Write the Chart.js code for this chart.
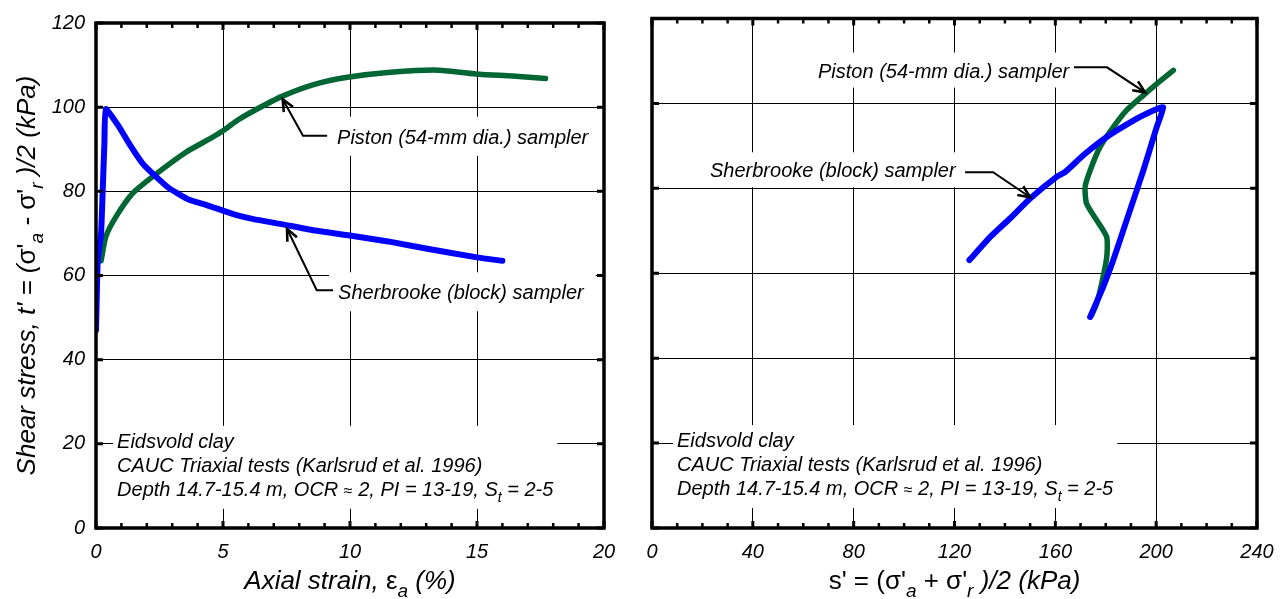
<!DOCTYPE html>
<html><head><meta charset="utf-8">
<script src="https://cdn.jsdelivr.net/npm/chart.js@4"></script>
<style>
html,body{margin:0;padding:0;background:#fff;}
#wrap{position:relative;width:1286px;height:599px;overflow:hidden;}
canvas{position:absolute;top:0;}
</style></head><body>
<div id="wrap">
<canvas id="c1" width="630" height="599" style="left:0"></canvas>
<canvas id="c2" width="656" height="599" style="left:630px"></canvas>
</div>
<script>
// ---------- DATA ----------
// Left panel: shear stress t' vs axial strain
const strainSherbrooke = [0, 0.03, 0.07, 0.2, 0.26, 0.33, 0.39, 0.92, 1.31, 1.84, 2.36, 2.89, 3.67, 4.33, 5.0, 5.5, 6.2, 7.3, 8.5, 10.0, 11.5, 13.1, 15.0, 16.0];
const tSherbrookeStrain = [47, 55, 63.8, 70.1, 79.5, 91.3, 99.5, 95.2, 91.3, 86.6, 83.5, 80.7, 78, 76.8, 75.4, 74.4, 73.4, 72.2, 70.8, 69.5, 68.1, 66.3, 64.3, 63.5];
const strainPiston = [0.2, 0.39, 0.79, 1.44, 2.23, 3.54, 4.4, 5.0, 5.6, 6.2, 7.3, 8.6, 9.9, 11.6, 13.5, 15.1, 16.4, 17.7];
const tPistonStrain = [63.5, 69.3, 74, 79.5, 83.5, 89.3, 92.2, 94.4, 97.0, 99.1, 102.5, 105.4, 107.1, 108.3, 108.8, 107.8, 107.4, 106.8];
// Right panel: stress paths t' vs s'
const sSherbrooke = [173.8, 179, 183, 188.3, 194.9, 200.2, 202.8, 197.6, 192.3, 180.4, 171.1, 163.8, 160.5, 150, 142, 134.1, 125.9];
const tSherbrookePath = [49.7, 56.8, 63.1, 72.5, 84.2, 94.4, 99.1, 98, 96.4, 92.1, 87.8, 83.8, 82.7, 77.6, 72.9, 68.5, 63.1];
const sPiston = [174.4, 176.4, 178.4, 180.4, 180.4, 176.4, 172.4, 171.8, 173.8, 177.7, 183, 188.3, 194.9, 200.2, 206.8];
const tPistonPath = [50.1, 52.9, 57.6, 63.8, 68.5, 72.5, 76.4, 80.3, 84.2, 89.7, 94.4, 98.4, 101.9, 104.6, 107.8];
// Axes
const strainTicks = [0, 5, 10, 15, 20];
const sTicks = [0, 40, 80, 120, 160, 200, 240];
const tTicks = [0, 20, 40, 60, 80, 100, 120];
const labelPiston = 'Piston (54-mm dia.) sampler';
const labelSherbrooke = 'Sherbrooke (block) sampler';
const noteLines = [
  [{t:'Eidsvold clay'}],
  [{t:'CAUC Triaxial tests (Karlsrud et al. 1996)'}],
  [{t:'Depth 14.7-15.4 m, OCR '},{t:'\u2248',up:true,small:true},{t:' 2, PI = 13-19, S'},{t:'t',sub:true},{t:' = 2-5'}]
];
const titleStrain = [{t:'Axial strain, '},{t:'\u03B5',up:true},{t:'a',sub:true},{t:' (%)'}];
const titleS = [{t:"s' = (",up:true},{t:"\u03C3'",up:true},{t:'a',sub:true},{t:' + ',up:true},{t:"\u03C3'",up:true},{t:'r',sub:true},{t:' )/2 (kPa)'}];
const titleT = [{t:"Shear stress, t' = ("},{t:"\u03C3'",up:true},{t:'a',sub:true},{t:' - '},{t:"\u03C3'",up:true},{t:'r',sub:true},{t:' )/2 (kPa)'}];

// ---------- helpers ----------
const FAM = "'Liberation Sans', Arial, Helvetica, sans-serif";
const BLUE = '#0000FF', GREEN = '#006633';
const pts = (xs, ys) => xs.map((v, i) => ({x: v, y: ys[i]}));

function fontFor(s, size) {
  const sz = s.sub ? Math.round(size * 0.72) : (s.small ? Math.round(size * 0.8) : size);
  return `${s.up ? 'normal' : 'italic'} ${sz}px ${FAM}`;
}
function richWidth(ctx, segs, size) {
  let w = 0;
  segs.forEach(s => { ctx.font = fontFor(s, size); w += ctx.measureText(s.t).width; });
  return w;
}
function drawRich(ctx, segs, x, y, size, align) {
  const total = richWidth(ctx, segs, size);
  let cx = align === 'center' ? x - total / 2 : x;
  ctx.textAlign = 'left'; ctx.textBaseline = 'alphabetic'; ctx.fillStyle = '#000';
  segs.forEach(s => {
    ctx.font = fontFor(s, size);
    ctx.fillText(s.t, cx, y + (s.sub ? size * 0.3 : 0));
    cx += ctx.measureText(s.t).width;
  });
  return total;
}

function makePlugins(cfg) {
  return [{
    id: 'boxes',
    beforeDatasetsDraw(chart) {
      const {ctx, scales: {x, y}} = chart;
      ctx.save(); ctx.fillStyle = '#fff';
      cfg.annos.forEach(a => {
        const px = x.getPixelForValue(a.x), py = y.getPixelForValue(a.y);
        let w = 0;
        a.lines.forEach(l => { w = Math.max(w, richWidth(ctx, l, a.size)); });
        const top = py - a.above, bot = py + (a.lines.length - 1) * a.lh + a.below;
        ctx.fillRect(px - a.padL, top, w + a.padL + a.padR, bot - top);
      });
      ctx.restore();
    },
    afterDatasetsDraw(chart) {
      const {ctx, scales: {x, y}} = chart;
      ctx.save();
      cfg.annos.forEach(a => {
        const px = x.getPixelForValue(a.x), py = y.getPixelForValue(a.y);
        a.lines.forEach((l, i) => drawRich(ctx, l, px, py + i * a.lh, a.size, 'left'));
      });
      ctx.strokeStyle = '#000'; ctx.lineWidth = 2; ctx.lineJoin = 'miter'; ctx.lineCap = 'butt';
      cfg.arrows.forEach(ar => {
        const p = ar.map(q => [x.getPixelForValue(q[0]), y.getPixelForValue(q[1])]);
        ctx.beginPath(); ctx.moveTo(p[0][0], p[0][1]);
        for (let i = 1; i < p.length; i++) ctx.lineTo(p[i][0], p[i][1]);
        ctx.stroke();
        const [tx, ty] = p[p.length - 1], [fx, fy] = p[p.length - 2];
        const ang = Math.atan2(ty - fy, tx - fx), L = 13, sp = 0.42;
        ctx.lineWidth = 2.6;
        ctx.beginPath();
        ctx.moveTo(tx - L * Math.cos(ang - sp), ty - L * Math.sin(ang - sp));
        ctx.lineTo(tx, ty);
        ctx.lineTo(tx - L * Math.cos(ang + sp), ty - L * Math.sin(ang + sp));
        ctx.stroke();
        ctx.lineWidth = 2;
      });
      ctx.restore();
    },
    afterDraw(chart) {
      const {ctx, chartArea: a, scales: {x, y}} = chart;
      ctx.save(); ctx.strokeStyle = '#000'; ctx.lineCap = 'butt';
      for (let v = x.min; v <= x.max + 1e-9; v += cfg.xMinor) {
        const px = x.getPixelForValue(v);
        const major = Math.abs(v / cfg.xMajor - Math.round(v / cfg.xMajor)) < 1e-6;
        const len = major ? 7 : 5;
        ctx.lineWidth = major ? 3 : 2.5;
        ctx.beginPath();
        ctx.moveTo(px, a.top); ctx.lineTo(px, a.top + len);
        ctx.moveTo(px, a.bottom); ctx.lineTo(px, a.bottom - len);
        ctx.stroke();
      }
      ctx.lineWidth = 3;
      for (let v = y.min; v <= y.max + 1e-9; v += 20) {
        const py = y.getPixelForValue(v);
        ctx.beginPath();
        ctx.moveTo(a.left, py); ctx.lineTo(a.left + 7, py);
        ctx.moveTo(a.right, py); ctx.lineTo(a.right - 7, py);
        ctx.stroke();
      }
      ctx.lineWidth = 3.5;
      ctx.strokeRect(a.left, a.top, a.right - a.left, a.bottom - a.top);
      // axis titles
      drawRich(ctx, cfg.xTitle, (a.left + a.right) / 2, 589, 26, 'center');
      if (cfg.yTitle) {
        ctx.translate(35, (a.top + a.bottom) / 2);
        ctx.rotate(-Math.PI / 2);
        drawRich(ctx, cfg.yTitle, 0, 0, 26, 'center');
      }
      ctx.restore();
    }
  }];
}

function makeChart(id, cfg) {
  const tickFont = {family: FAM, size: 20, style: 'italic'};
  return new Chart(document.getElementById(id), {
    type: 'scatter',
    data: {datasets: [
      {label: labelSherbrooke, data: cfg.blue, borderColor: BLUE, backgroundColor: BLUE, showLine: true, pointRadius: 0, borderWidth: 6, tension: 0.15, borderCapStyle: 'round', borderJoinStyle: 'round'},
      {label: labelPiston, data: cfg.green, borderColor: GREEN, backgroundColor: GREEN, showLine: true, pointRadius: 0, borderWidth: 5.5, tension: 0.2, borderCapStyle: 'round', borderJoinStyle: 'round'}
    ]},
    options: {
      responsive: false, animation: false, devicePixelRatio: 1,
      layout: {padding: cfg.padding},
      plugins: {legend: {display: false}, tooltip: {enabled: false}},
      scales: {
        x: {type: 'linear', min: cfg.xTicks[0], max: cfg.xTicks[cfg.xTicks.length - 1],
            afterBuildTicks: s => { s.ticks = cfg.xTicks.map(v => ({value: v})); },
            ticks: {font: tickFont, color: '#000', padding: 12, maxRotation: 0},
            grid: {color: '#000', lineWidth: 1, drawTicks: false}, border: {display: false},
            afterFit: s => { s.height = 71; }},
        y: {type: 'linear', min: 0, max: 120,
            afterBuildTicks: s => { s.ticks = tTicks.map(v => ({value: v})); },
            ticks: {display: cfg.yLabels, font: tickFont, color: '#000', padding: 11},
            grid: {color: '#000', lineWidth: 1, drawTicks: false}, border: {display: false},
            afterFit: s => { s.width = cfg.yWidth; }}
      }
    },
    plugins: makePlugins(cfg)
  });
}

makeChart('c1', {
  blue: pts(strainSherbrooke, tSherbrookeStrain), green: pts(strainPiston, tPistonStrain),
  xTicks: strainTicks, xMinor: 1, xMajor: 5, yLabels: true, yWidth: 96,
  padding: {top: 18.5, right: 26, left: 0, bottom: 0},
  xTitle: titleStrain, yTitle: titleT,
  annos: [
    {x: 9.49, y: 91.3, lines: [[{t: labelPiston}]], size: 20, lh: 24, above: 27, below: 12, padL: 8, padR: 6},
    {x: 9.53, y: 54.35, lines: [[{t: labelSherbrooke}]], size: 20, lh: 24, above: 27, below: 12, padL: 9, padR: 12},
    {x: 0.83, y: 19.06, lines: noteLines, size: 20, lh: 24, above: 22, below: 13, padL: 4, padR: 4}
  ],
  arrows: [
    [[9.1, 93.2], [8.15, 93.2], [7.35, 101.9]],
    [[9.33, 56.5], [8.69, 56.5], [7.52, 71.1]]
  ]
});

makeChart('c2', {
  blue: pts(sSherbrooke, tSherbrookePath), green: pts(sPiston, tPistonPath),
  xTicks: sTicks, xMinor: 10, xMajor: 40, yLabels: false, yWidth: 22,
  padding: {top: 18.5, right: 29, left: 0, bottom: 0},
  xTitle: titleS, yTitle: null,
  annos: [
    {x: 65.85, y: 106.1, lines: [[{t: labelPiston}]], size: 20, lh: 24, above: 25, below: 10, padL: 10, padR: 5},
    {x: 23.0, y: 82.6, lines: [[{t: labelSherbrooke}]], size: 20, lh: 24, above: 25, below: 10, padL: 8, padR: 5},
    {x: 9.92, y: 19.06, lines: noteLines, size: 20, lh: 24, above: 22, below: 13, padL: 4, padR: 4}
  ],
  arrows: [
    [[167.4, 108.5], [180.5, 108.5], [195.6, 102.6]],
    [[124.2, 83.8], [135.3, 83.8], [150.0, 77.9]]
  ]
});
</script>
</body></html>
